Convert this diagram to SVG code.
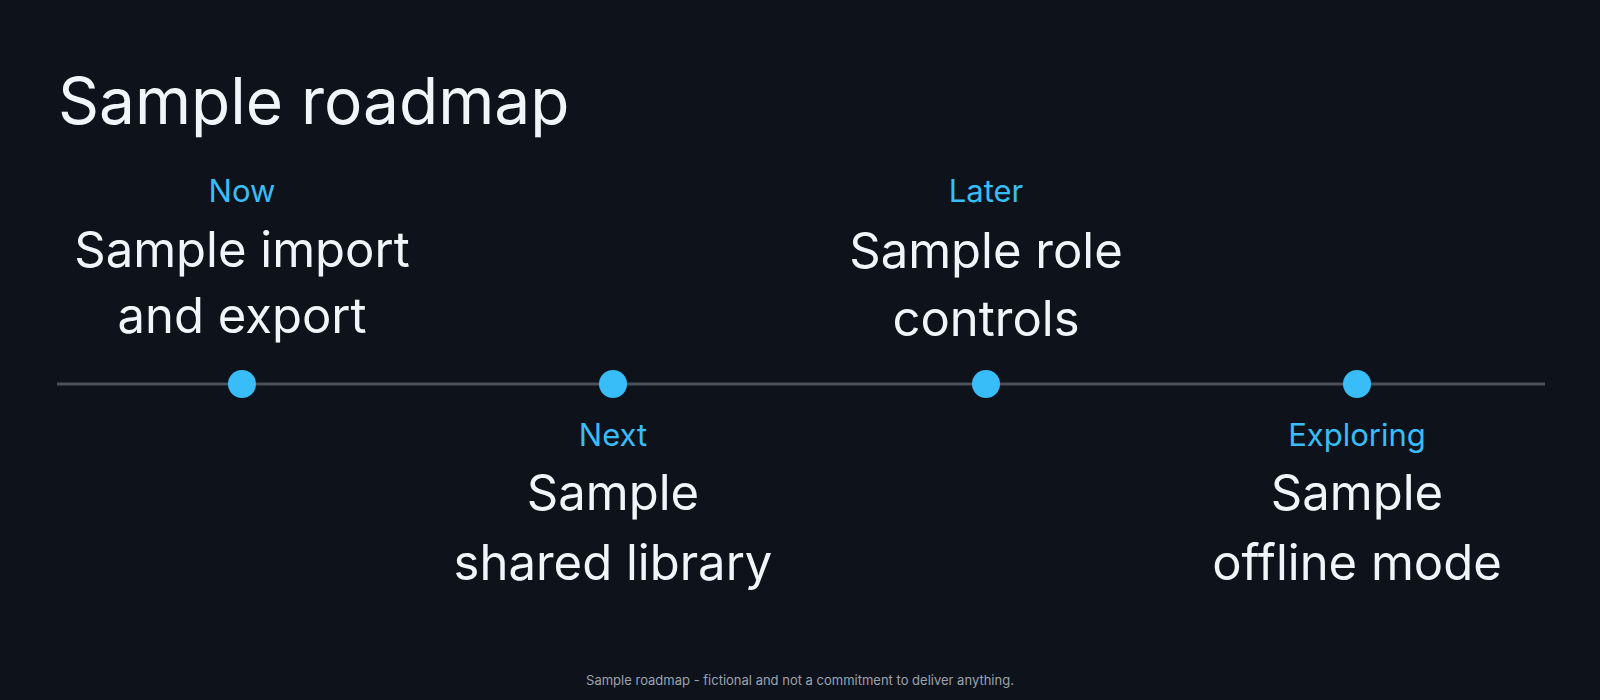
<svg xmlns="http://www.w3.org/2000/svg" width="1600" height="700" viewBox="0 0 1600 700">
<style>
.lab{font-family:Inter,"Noto Sans",sans-serif;font-size:31px;fill:#38bdf8;text-anchor:middle}
.t{font-family:Inter,"Noto Sans",sans-serif;font-size:49px;fill:#f1f5f9;text-anchor:middle}
.dot{fill:#38bdf8}
</style>
<rect width="1600" height="700" fill="#0e121a"/>
<text x="58" y="124" font-family="Inter,'Noto Sans',sans-serif" font-size="64" fill="#f1f5f9">Sample roadmap</text>
<g id="connectors"><line x1="57" y1="384" x2="1545" y2="384" stroke="#4b5059" stroke-width="3"/></g>
<g id="now"><circle class="dot" cx="242" cy="384" r="14"/><text class="lab" x="242" y="202">Now</text><text class="t" x="242" y="267">Sample import</text><text class="t" x="242" y="333">and export</text></g>
<g id="next"><circle class="dot" cx="613" cy="384" r="14"/><text class="lab" x="613" y="446">Next</text><text class="t" x="613" y="510">Sample</text><text class="t" x="613" y="580">shared library</text></g>
<g id="later"><circle class="dot" cx="986" cy="384" r="14"/><text class="lab" x="986" y="202">Later</text><text class="t" x="986" y="268">Sample role</text><text class="t" x="986" y="336">controls</text></g>
<g id="exploring"><circle class="dot" cx="1357" cy="384" r="14"/><text class="lab" x="1357" y="446">Exploring</text><text class="t" x="1357" y="510">Sample</text><text class="t" x="1357" y="580">offline mode</text></g>
<text x="800" y="685" font-family="Inter,'Noto Sans',sans-serif" font-size="13" fill="#9ca3af" text-anchor="middle">Sample roadmap - fictional and not a commitment to deliver anything.</text>
</svg>
